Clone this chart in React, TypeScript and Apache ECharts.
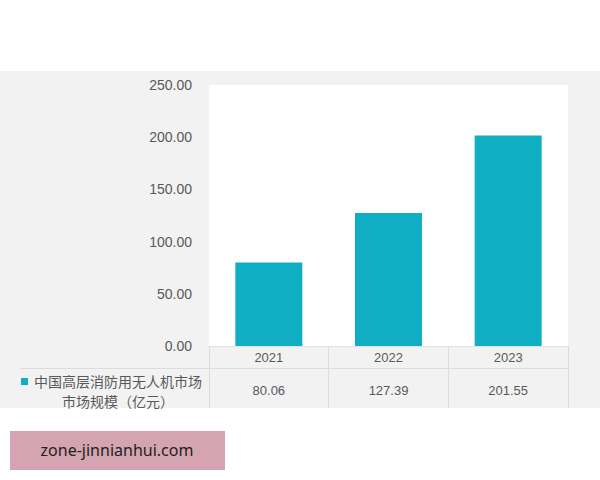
import React, { useEffect, useRef } from "react";
import * as echarts from "echarts";

const years = ["2021", "2022", "2023"];
const marketSize = [80.06, 127.39, 201.55];
const seriesName = "中国高层消防用无人机市场规模（亿元）";
const legendLine1 = "中国高层消防用无人机市场";
const legendLine2 = "市场规模（亿元）";
const watermark = "zone-jinnianhui.com";

const TEXT = "#595959";
const BAR = "#10aec3";

export default function App() {
  const ref = useRef<HTMLDivElement>(null);
  useEffect(() => {
    document.body.style.margin = "0";
    const chart = echarts.init(ref.current!, null, { renderer: "svg" });
    chart.setOption({
      animation: false,
      backgroundColor: "#ffffff",
      graphic: [
        { type: "rect", z: -10, shape: { x: 0, y: 71, width: 600, height: 337 }, style: { fill: "#f2f2f2" } },
        { type: "line", shape: { x1: 20, y1: 368.5, x2: 569, y2: 368.5 }, style: { stroke: "#dcdcdc", lineWidth: 1 } },
        { type: "rect", shape: { x: 21, y: 378, width: 7, height: 7 }, style: { fill: BAR } },
        {
          type: "text", x: 118, y: 391,
          style: {
            text: legendLine1 + "\n" + legendLine2, fill: TEXT, font: '14px "Noto Sans CJK SC"',
            lineHeight: 20.5, textAlign: "center", textVerticalAlign: "middle",
          },
        },
        { type: "rect", shape: { x: 10, y: 431, width: 215, height: 39 }, style: { fill: "#d4a5b1" } },
        {
          type: "text", x: 117, y: 450,
          style: { text: watermark, fill: "#222222", font: '16px "Noto Sans"', textAlign: "center", textVerticalAlign: "middle" },
        },
      ],
      grid: {
        left: 209, right: 32, top: 85, bottom: 134,
        show: true, backgroundColor: "#ffffff", borderWidth: 0,
      },
      xAxis: [
        {
          type: "category", data: years, position: "bottom",
          axisLine: { show: true, lineStyle: { color: "#e3e3e3" } },
          axisTick: { show: true, length: 62, alignWithLabel: false, lineStyle: { color: "#dcdcdc" } },
          axisLabel: { color: TEXT, fontSize: 13, fontFamily: "Liberation Sans", margin: 5 },
        },
        {
          type: "category", data: marketSize.map((v) => v.toFixed(2)), position: "bottom", offset: 38,
          axisLine: { show: false }, axisTick: { show: false },
          axisLabel: { color: TEXT, fontSize: 13, fontFamily: "Liberation Sans", margin: 0 },
        },
      ],
      yAxis: {
        type: "value", min: 0, max: 250, interval: 50,
        splitLine: { show: false },
        axisLine: { show: false }, axisTick: { show: false },
        axisLabel: { color: TEXT, fontSize: 14, fontFamily: "Liberation Sans", margin: 17, formatter: (v: number) => v.toFixed(2) },
      },
      series: [
        {
          name: seriesName, type: "bar", data: marketSize, xAxisIndex: 0,
          barWidth: 67,
          itemStyle: { color: BAR },
        },
      ],
    });
    return () => chart.dispose();
  }, []);
  return <div ref={ref} style={{ width: 600, height: 480, position: "absolute", left: 0, top: 0 }} />;
}
